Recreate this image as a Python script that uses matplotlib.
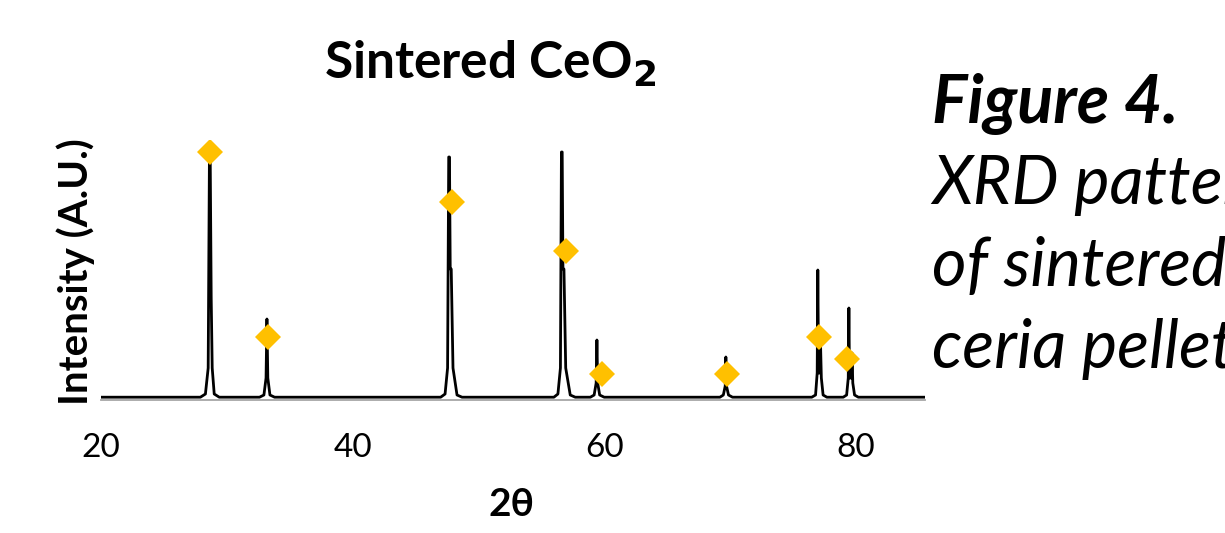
import matplotlib
matplotlib.use("Agg")
import matplotlib.pyplot as plt

plt.rcParams['font.family'] = ['Lato', 'DejaVu Sans']

# XRD trace of the sintered pellet: 2-theta (deg) and intensity (a.u.)
two_theta = [
    20.0, 27.9, 28.3, 28.52, 28.62, 28.68, 28.76, 28.84, 29.0, 29.4,
    32.6, 32.95, 33.12, 33.19, 33.26, 33.43, 33.8,
    47.0, 47.35, 47.55, 47.64, 47.7, 47.76, 47.84, 47.98, 48.3, 48.7,
    56.0, 56.32, 56.52, 56.6, 56.66, 56.72, 56.8, 56.94, 57.3, 57.7,
    58.9, 59.2, 59.36, 59.42, 59.48, 59.64, 60.0,
    69.2, 69.47, 69.62, 69.67, 69.72, 69.88, 70.2,
    76.5, 76.8, 76.93, 76.98, 77.04, 77.16, 77.2, 77.26, 77.4, 77.7,
    79.0, 79.27, 79.4, 79.45, 79.5, 79.66, 79.7, 79.76, 79.9, 80.2,
    85.5,
]
intensity = [
    0.8, 0.8, 4, 30, 243, 243, 100, 30, 4, 0.8,
    0.8, 3, 20, 79, 20, 3, 0.8,
    0.8, 4, 30, 241, 241, 129, 129, 30, 3, 0.8,
    0.8, 4, 30, 246, 246, 129, 129, 30, 3, 0.8,
    0.8, 3, 15, 58, 15, 3, 0.8,
    0.8, 3, 12, 41, 12, 3, 0.8,
    0.8, 3, 25, 128, 25, 25, 52, 20, 3, 0.8,
    0.8, 3, 20, 90, 20, 20, 45, 15, 3, 0.8,
    0.8,
]

# CeO2 reference reflections
ref_theta = [28.66, 33.27, 47.9, 56.95, 59.8, 69.75, 77.06, 79.29]
ref_marker = [246, 61, 196, 147, 24, 24, 61, 39]

title = 'Sintered CeO$_\\mathbf{2}$'
caption = ['XRD pattern', 'of sintered', 'ceria pellet.']

fig = plt.figure(figsize=(12.25, 5.33), dpi=100)
ax = fig.add_axes([101 / 1225, 1 - 400 / 533, 824 / 1225, 260 / 533])

ax.plot(two_theta, intensity, color='black', lw=2, zorder=2)
ax.plot(ref_theta, ref_marker, linestyle='None', marker='D', markersize=13,
        color='#ffc000', markeredgewidth=0, zorder=3)

ax.set_xlim(20, 85.5)
ax.set_ylim(-2, 258)
ax.set_xticks([20, 40, 60, 80])
ax.set_yticks([])
ax.tick_params(axis='x', length=0, pad=24, labelsize=24)
for side in ['left', 'right', 'top']:
    ax.spines[side].set_visible(False)
ax.spines['bottom'].set_color('#a6a6a6')
ax.spines['bottom'].set_linewidth(1.3)

fig.text(490 / 1225, 1 - 64 / 533, title, ha='center', va='center',
         fontsize=37, fontweight='bold')
fig.text(76 / 1225, 1 - 272 / 533, 'Intensity (A.U.)', rotation=90,
         ha='center', va='center', fontsize=29, fontweight='bold')
fig.text(511 / 1225, 1 - 505 / 533, '2θ', ha='center', va='center',
         fontsize=28, fontweight='bold')

# caption beside the chart
fig.text(932 / 1225, 1 - 123 / 533, 'Figure 4.', ha='left', va='baseline',
         fontsize=48, fontweight='bold', style='italic')
for i, line in enumerate(caption):
    fig.text(932 / 1225, 1 - (204 + 82 * i) / 533, line, ha='left',
             va='baseline', fontsize=48, style='italic')

fig.savefig('out.png', dpi=100)
